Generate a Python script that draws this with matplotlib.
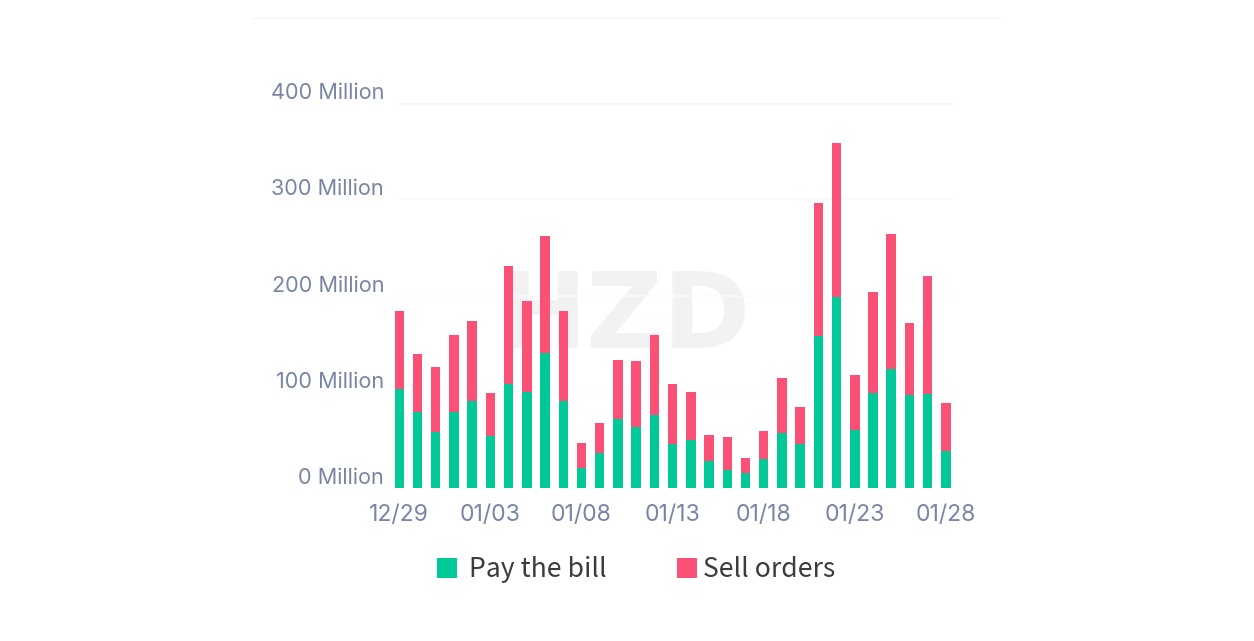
import matplotlib
matplotlib.use("Agg")
import matplotlib.pyplot as plt
from matplotlib.patches import Patch
from matplotlib.lines import Line2D
from matplotlib.transforms import ScaledTranslation

dates = ["12/29", "12/30", "12/31", "01/01", "01/02", "01/03", "01/04", "01/05", "01/06", "01/07", "01/08",
         "01/09", "01/10", "01/11", "01/12", "01/13", "01/14", "01/15", "01/16", "01/17", "01/18",
         "01/19", "01/20", "01/21", "01/22", "01/23", "01/24", "01/25", "01/26", "01/27", "01/28"]
pay_bill = [102.8, 79.6, 58.8, 79.6, 91.0, 54.0, 108.0, 99.7, 140.9, 91.0, 20.8,
            36.3, 72.0, 63.7, 76.2, 45.7, 50.2, 28.0, 19.0, 16.3, 30.1,
            57.1, 45.7, 157.8, 199.0, 60.9, 99.0, 123.9, 96.9, 98.0, 39.1]
sell_orders = [81.3, 59.5, 67.2, 79.6, 83.1, 45.0, 122.5, 94.5, 121.5, 93.1, 25.9,
               31.5, 60.9, 68.5, 83.0, 63.0, 49.8, 27.7, 34.7, 15.5, 29.8,
               57.8, 39.1, 138.5, 159.9, 57.1, 105.2, 140.2, 75.1, 122.1, 49.9]
y_ticks = [0, 100, 200, 300, 400]
y_tick_labels = ["0 Million", "100 Million", "200 Million", "300 Million", "400 Million"]
series_names = ["Pay the bill", "Sell orders"]

GREEN, PINK = "#00c896", "#fb5176"
W, H = 1254, 641
plt.rcParams["font.family"] = ["Inter", "DejaVu Sans"]
fig = plt.figure(figsize=(W / 100, H / 100), dpi=100, facecolor="white")

# watermark sits under the axes
fig.text(625 / W, 1 - 319 / H, "HZD", fontsize=76, fontweight="bold", color="#f2f2f3",
         ha="center", va="center", zorder=-1, family=["DejaVu Sans"])

ax = fig.add_axes([398 / W, 1 - 488.3 / H, (953 - 398) / W, (488.3 - 103) / H])
ax.set_facecolor("none")
x = list(range(len(dates)))
ax.bar(x, pay_bill, width=0.52, color=GREEN, zorder=3, clip_on=False)
ax.bar(x, sell_orders, width=0.52, bottom=pay_bill, color=PINK, zorder=3, clip_on=False)
ax.set_xlim(-0.07, 30.39)
ax.set_ylim(0, 400)

for s in ax.spines.values():
    s.set_visible(False)
ax.set_axisbelow(True)
ax.set_yticks(y_ticks)
ax.set_yticklabels(y_tick_labels)
ax.set_xticks(x[::5])
ax.set_xticklabels(dates[::5])
ax.tick_params(length=0)
ax.tick_params(axis="y", labelsize=15.6, labelcolor="#7a85a5", pad=10)
ax.tick_params(axis="x", labelsize=16.6, labelcolor="#7a85a5", pad=11.5)
ax.grid(axis="y", color="#fafafb", linewidth=1.2)
ax.get_ygridlines()[-1].set(color="#f5f5f8", linewidth=3)
ax.get_ygridlines()[0].set_visible(False)

up = ScaledTranslation(0, 12 / 100, fig.dpi_scale_trans)
for lab in ax.get_yticklabels():
    lab.set_transform(lab.get_transform() + up)

fig.add_artist(Line2D([252 / W, 1000 / W], [1 - 17.5 / H] * 2, color="#f7f7f7", lw=1))

legend_font = {"size": 19.1, "family": ["Noto Sans CJK SC", "DejaVu Sans"]}
for color, name, left, pad in [(GREEN, series_names[0], 437, 0.45), (PINK, series_names[1], 677, 0.22)]:
    fig.legend(handles=[Patch(facecolor=color, label=name)], loc="center left",
               bbox_to_anchor=(left / W, 1 - 569.5 / H), frameon=False, borderpad=0, borderaxespad=0,
               handlelength=0.755, handleheight=0.755, handletextpad=pad, prop=legend_font,
               labelcolor="#3c3c3c")
fig.savefig("out.png", dpi=100, facecolor="white")
